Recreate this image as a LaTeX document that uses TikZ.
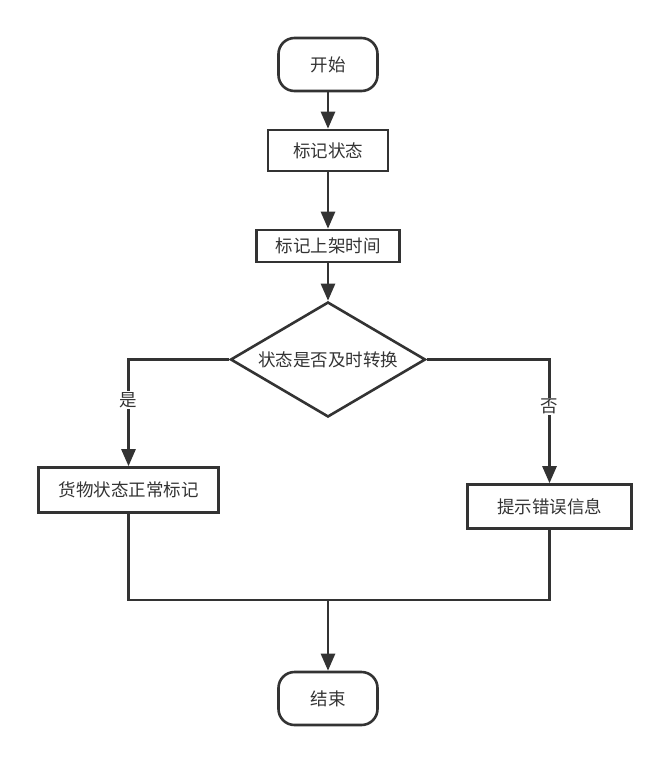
\documentclass[tikz,border=0pt]{standalone}
\usepackage{fontspec}
\setmainfont{Noto Sans CJK SC}
\usetikzlibrary{shapes,arrows.meta}
\definecolor{ink}{HTML}{333333}
\tikzstyle{line} = [draw=ink, line width=2.6pt, -{Triangle[length=17pt,width=14pt]}]
\tikzstyle{wire} = [draw=ink, line width=2.6pt]
\tikzstyle{term} = [rectangle, rounded corners=16pt, draw=ink, line width=2.6pt, text=ink, inner sep=0pt, minimum width=99pt, minimum height=53pt]
\tikzstyle{block} = [rectangle, draw=ink, line width=2.6pt, text=ink, inner sep=0pt]
\tikzstyle{decision} = [diamond, aspect=1.7, draw=ink, line width=2.6pt, text=ink, inner sep=0pt, minimum width=195pt, minimum height=115pt]

\begin{document}
\begin{tikzpicture}[x=1pt, y=1pt, font=\fontsize{17.5}{20}\selectfont]
	\useasboundingbox (0,0) rectangle (670,-763);
	\node [term] at (328,-64.5) (start) {开始};
	\node [block, below of=start, node distance=86pt, minimum width=120pt, minimum height=41pt] (mark) {标记状态};
	\node [block, below of=mark, node distance=95.5pt, minimum width=143pt, minimum height=32pt] (shelf) {标记上架时间};
	\node [decision, below of=shelf, node distance=113.5pt] (check) {状态是否及时转换};
	\node [block, minimum width=180pt, minimum height=45pt] at (128.5,-490) (normal) {货物状态正常标记};
	\node [block, minimum width=164pt, minimum height=44pt] at (549.5,-506.5) (hint) {提示错误信息};
	\node [term, below of=check, node distance=339pt] (stop) {结束};
	\coordinate (join) at (328,-600);
	\path [line] (start) -> (mark);
	\path [line] (mark) -> (shelf);
	\path [line] (shelf) -> (check);
	\path [line] (check.west) -| node [pos=0.69, fill=white, inner sep=1pt, text=ink] {是} (normal.north);
	\path [line] (check.east) -| node [pos=0.69, fill=white, inner sep=1pt, text=ink] {否} (hint.north);
	\path [wire] (normal.south) |- (join) -| (hint.south);
	\path [line] (join) -> (stop);
\end{tikzpicture}
\end{document}
